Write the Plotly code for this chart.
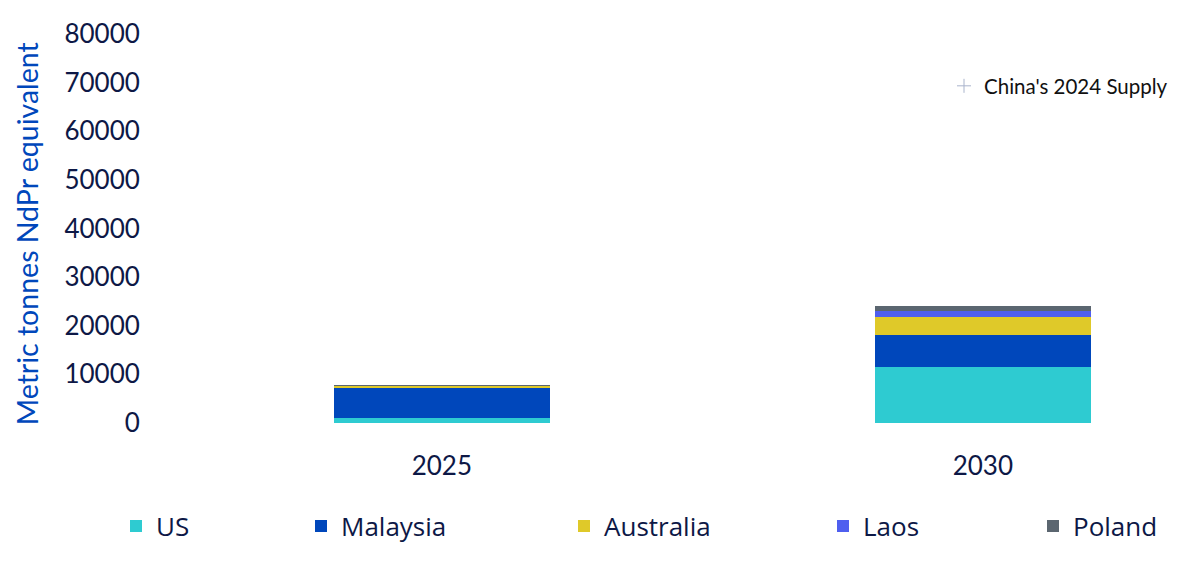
import plotly.graph_objects as go

years = ['2025', '2030']
countries = ['US', 'Malaysia', 'Australia', 'Laos', 'Poland']
us = [1000, 11600]
malaysia = [6200, 6450]
australia = [450, 3800]
laos = [80, 1150]
poland = [60, 1100]
china_2024_supply = [90000]  # sits above the visible range, only its legend entry shows

colors = ['#2ecbd1', '#0047bb', '#dfc929', '#4f5fef', '#5b6670']
series = [us, malaysia, australia, laos, poland]
legend_px = [108, 293, 556, 815, 1025]

navy = '#0d1846'

fig = go.Figure()

for i, (name, vals) in enumerate(zip(countries, series)):
    fig.add_trace(go.Bar(
        x=years,
        y=vals,
        name=name,
        marker=dict(color=colors[i], line=dict(width=0)),
        legend='legend' if i == 0 else 'legend%d' % (i + 1),
    ))

fig.add_trace(go.Scatter(
    x=['2030'],
    y=china_2024_supply,
    mode='markers',
    name="China's 2024 Supply",
    marker=dict(symbol='cross-thin', size=10, line=dict(width=1, color='#a9b4cc')),
    cliponaxis=True,
    legend='legend6',
))

legends = {}
for i, px in enumerate(legend_px):
    key = 'legend' if i == 0 else 'legend%d' % (i + 1)
    legends[key] = dict(
        xref='container', yref='container',
        x=px / 1200, y=1 - 518 / 564,
        xanchor='left', yanchor='middle',
        font=dict(family='Open Sans', size=26, color=navy),
        bgcolor='rgba(0,0,0,0)',
    )
legends['legend6'] = dict(
    xref='container', yref='container',
    x=936 / 1200, y=1 - 78 / 564,
    xanchor='left', yanchor='middle',
    font=dict(family='Lato', size=20.5, color='#111111'),
    bgcolor='rgba(0,0,0,0)',
)

fig.update_layout(
    barmode='stack',
    bargap=0.6,
    width=1200,
    height=564,
    margin=dict(l=152, r=18, t=26, b=149, autoexpand=False),
    plot_bgcolor='white',
    paper_bgcolor='white',
    showlegend=True,
    xaxis=dict(
        type='category',
        range=[-0.521, 1.383],
        showgrid=False,
        zeroline=False,
        showline=False,
        ticks='outside',
        ticklen=20,
        tickcolor='rgba(0,0,0,0)',
        tickfont=dict(family='Lato', size=26, color=navy),
    ),
    yaxis=dict(
        range=[0, 80000],
        dtick=10000,
        showgrid=False,
        zeroline=False,
        showline=False,
        tickformat='d',
        ticks='outside',
        ticklen=14,
        tickcolor='rgba(0,0,0,0)',
        tickfont=dict(family='Lato', size=26, color=navy),
    ),
    annotations=[dict(
        text='Metric tonnes NdPr equivalent',
        xref='paper', yref='paper',
        x=(19 - 152) / 1030, y=0.485,
        xanchor='center', yanchor='middle',
        textangle=-90,
        showarrow=False,
        font=dict(family='Lato', size=28.5, color='#0047bb'),
    )],
    **legends,
)

fig.write_html('out.html')
